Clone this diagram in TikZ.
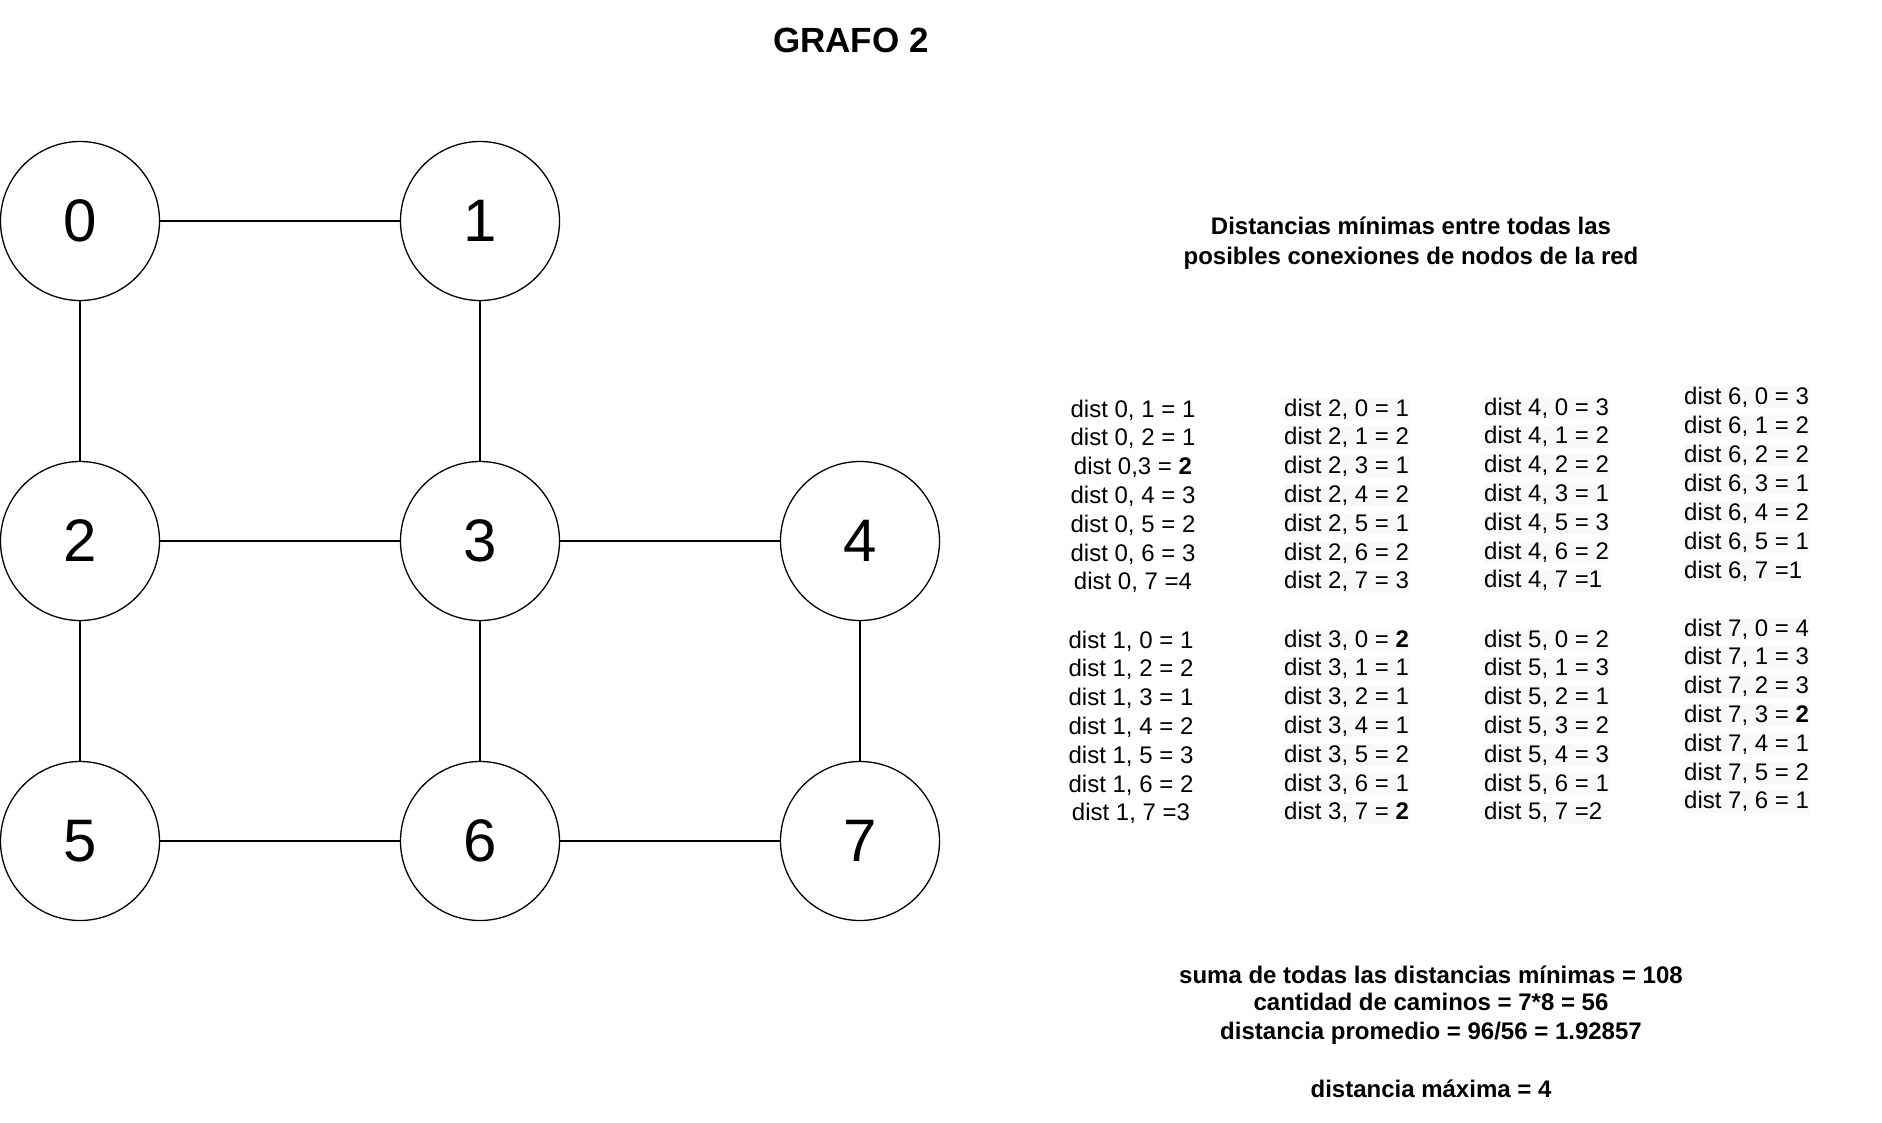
\documentclass[tikz,border=0pt]{standalone}
\usepackage{fontspec}
\setmainfont{Liberation Sans}
\definecolor{bgg}{RGB}{249,249,249}
\begin{document}
\begin{tikzpicture}[x=1pt,y=-1pt,
  vtx/.style={circle,draw,line width=1.3pt,minimum size=159pt,inner sep=0pt,font=\fontsize{60}{60}\selectfont},
  edge/.style={line width=1.4pt},
  dl/.style={inner sep=1pt,font=\fontsize{24}{24}\selectfont},
  dlb/.style={dl,fill=bgg},
  bt/.style={font=\bfseries\fontsize{24}{24}\selectfont}]
\useasboundingbox (0,0) rectangle (1882,1122);
\node[font=\bfseries\fontsize{35}{35}\selectfont,anchor=base] (title) at (851,52.5) {GRAFO 2};
% vertices
\node[vtx] (n0) at (80,221) {0};
\node[vtx] (n1) at (480,221) {1};
\node[vtx] (n2) at (80,541) {2};
\node[vtx] (n3) at (480,541) {3};
\node[vtx] (n4) at (860,541) {4};
\node[vtx] (n5) at (80,841) {5};
\node[vtx] (n6) at (480,841) {6};
\node[vtx] (n7) at (860,841) {7};
\foreach \a/\b in {n0/n1,n0/n2,n1/n3,n2/n3,n3/n4,n2/n5,n3/n6,n4/n7,n5/n6,n6/n7}
  \draw[edge] (\a) -- (\b);
% heading
\node[bt,anchor=base] (h1) at (1411,234) {Distancias mínimas entre todas las};
\node[bt,anchor=base] (h2) at (1411,264) {posibles conexiones de nodos de la red};
% column 1
\foreach \t [count=\i] in {{dist 0, 1 = 1},{dist 0, 2 = 1},{dist 0,3 = \textbf{2}},{dist 0, 4 = 3},{dist 0, 5 = 2},{dist 0, 6 = 3},{dist 0, 7 =4}}
  \node[dl,anchor=base] (a\i) at (1133,{417+(\i-1)*28.8}) {\t};
\foreach \t [count=\i] in {{dist 1, 0 = 1},{dist 1, 2 = 2},{dist 1, 3 = 1},{dist 1, 4 = 2},{dist 1, 5 = 3},{dist 1, 6 = 2},{dist 1, 7 =3}}
  \node[dl,anchor=base] (b\i) at (1131,{648+(\i-1)*28.8}) {\t};
% column 2
\foreach \t [count=\i] in {{dist 2, 0 = 1},{dist 2, 1 = 2},{dist 2, 3 = 1},{dist 2, 4 = 2},{dist 2, 5 = 1},{dist 2, 6 = 2},{dist 2, 7 = 3}}
  \node[dlb,anchor=base west] (c\i) at (1283,{416+(\i-1)*28.8}) {\t};
\foreach \t [count=\i] in {{dist 3, 0 = \textbf{2}},{dist 3, 1 = 1},{dist 3, 2 = 1},{dist 3, 4 = 1},{dist 3, 5 = 2},{dist 3, 6 = 1},{dist 3, 7 = \textbf{2}}}
  \node[dlb,anchor=base west] (d\i) at (1283,{647+(\i-1)*28.8}) {\t};
% column 3
\foreach \t [count=\i] in {{dist 4, 0 = 3},{dist 4, 1 = 2},{dist 4, 2 = 2},{dist 4, 3 = 1},{dist 4, 5 = 3},{dist 4, 6 = 2},{dist 4, 7 =1}}
  \node[dlb,anchor=base west] (e\i) at (1483,{415+(\i-1)*28.8}) {\t};
\foreach \t [count=\i] in {{dist 5, 0 = 2},{dist 5, 1 = 3},{dist 5, 2 = 1},{dist 5, 3 = 2},{dist 5, 4 = 3},{dist 5, 6 = 1},{dist 5, 7 =2}}
  \node[dlb,anchor=base west] (f\i) at (1483,{647+(\i-1)*28.8}) {\t};
% column 4
\foreach \t [count=\i] in {{dist 6, 0 = 3},{dist 6, 1 = 2},{dist 6, 2 = 2},{dist 6, 3 = 1},{dist 6, 4 = 2},{dist 6, 5 = 1},{dist 6, 7 =1}}
  \node[dlb,anchor=base west] (g\i) at (1683,{404+(\i-1)*29}) {\t};
\foreach \t [count=\i] in {{dist 7, 0 = 4},{dist 7, 1 = 3},{dist 7, 2 = 3},{dist 7, 3 = \textbf{2}},{dist 7, 4 = 1},{dist 7, 5 = 2},{dist 7, 6 = 1}}
  \node[dlb,anchor=base west] (k\i) at (1683,{636+(\i-1)*28.8}) {\t};
% summary
\node[bt,anchor=base] (s1) at (1431,983) {suma de todas las distancias mínimas = 108};
\node[bt,anchor=base] (s2) at (1431,1010) {cantidad de caminos = 7*8 = 56};
\node[bt,anchor=base] (s3) at (1431,1039) {distancia promedio = 96/56 = 1.92857};
\node[bt,anchor=base] (s4) at (1431,1097) {distancia máxima = 4};
\end{tikzpicture}
\end{document}
